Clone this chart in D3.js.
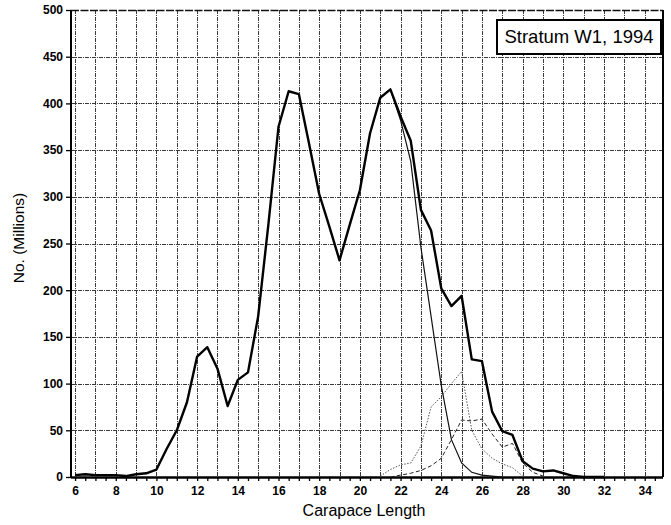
<!DOCTYPE html>
<html>
<head>
<meta charset="utf-8">
<script src="https://cdn.jsdelivr.net/npm/d3@7"></script>
<style>
  html, body { margin: 0; padding: 0; background: #fff; }
  svg { display: block; }
  text { font-family: "Liberation Sans", Arial, Helvetica, sans-serif; fill: #000; }
</style>
</head>
<body>
<svg id="chart" width="671" height="525"></svg>
<script>
// ---- Data ----
const totalX = [6,6.5,7,7.5,8,8.5,9,9.5,10,10.5,11,11.5,12,12.5,13,13.5,14,14.5,15,15.5,16,16.5,17,17.5,18,18.5,19,19.5,20,20.5,21,21.5,22,22.5,23,23.5,24,24.5,25,25.5,26,26.5,27,27.5,28,28.5,29,29.5,30,30.5,31,31.5,32];
const totalY = [2,3,2,2,2,1,3,4,8,30,50,80,129,139,116,76,104,112,172,270,375,413,410,357,303,268,232,270,307,368,406,415,386,360,286,264,202,183,194,126,124,70,49,45,17,9,6,7,4,1,0,0,0];

const comp1X = [21,21.5,22,22.5,23,23.5,24,24.5,25,25.5,26,26.5,27];
const comp1Y = [406,415,382,338,246,172,98,40,15,5,2,1,0];

const comp2X = [21.5,22,22.5,23,23.5,24,24.5,25,25.5,26,26.5,27,27.5,28,28.5,29];
const comp2Y = [0,2,4,7,12,20,40,61,60,62,46,32,36,15,5,1];

const comp3X = [21,21.5,22,22.5,23,23.5,24,24.5,25,25.5,26,26.5,27,27.5,28];
const comp3Y = [1,8,13,15,33,75,86,100,113,50,30,20,14,10,1];

const xTickValues = [6,6.5,7,7.5,8,8.5,9,9.5,10,10.5,11,11.5,12,12.5,13,13.5,14,14.5,15,15.5,16,16.5,17,17.5,18,18.5,19,19.5,20,20.5,21,21.5,22,22.5,23,23.5,24,24.5,25,25.5,26,26.5,27,27.5,28,28.5,29,29.5,30,30.5,31,31.5,32,32.5,33,33.5,34,34.5];
const xLabels = [6,8,10,12,14,16,18,20,22,24,26,28,30,32,34];
const xGrid = [6,7,8,9,10,11,12,13,14,15,16,17,18,19,20,21,22,23,24,25,26,27,28,29,30,31,32,33,34];
const yTicks = [0,50,100,150,200,250,300,350,400,450,500];

const title = "Stratum W1, 1994";
const xTitle = "Carapace Length";
const yTitle = "No. (Millions)";

// ---- Layout ----
const svg = d3.select("#chart");
const L = 71, R = 663, T = 10, B = 477;
const x = d3.scaleLinear().domain([5.8, 34.9]).range([L, R]);
const y = d3.scaleLinear().domain([0, 500]).range([B, T]);

// grid
const grid = svg.append("g").attr("stroke", "#3a3a3a").attr("stroke-width", 1)
  .attr("stroke-dasharray", "4,1,1,1");
grid.selectAll("line.v").data(xGrid).join("line").attr("class","v")
  .attr("x1", d => Math.round(x(d)) + 0.5).attr("x2", d => Math.round(x(d)) + 0.5)
  .attr("y1", T).attr("y2", B);
grid.selectAll("line.h").data(yTicks.filter(d => d > 0 && d < 500)).join("line").attr("class","h")
  .attr("y1", d => Math.round(y(d)) + 0.5).attr("y2", d => Math.round(y(d)) + 0.5)
  .attr("x1", L).attr("x2", R);

// frame
svg.append("line").attr("x1", L).attr("x2", R).attr("y1", T + 0.5).attr("y2", T + 0.5)
  .attr("stroke", "#111").attr("stroke-width", 1.6).attr("stroke-dasharray", "8,1.5");
svg.append("line").attr("x1", L).attr("x2", L).attr("y1", T).attr("y2", B)
  .attr("stroke", "#000").attr("stroke-width", 2);
svg.append("line").attr("x1", R).attr("x2", R).attr("y1", T).attr("y2", B)
  .attr("stroke", "#000").attr("stroke-width", 2);

// axes
const xAxis = d3.axisBottom(x).tickValues(xTickValues).tickSize(4).tickSizeOuter(0)
  .tickFormat(d => xLabels.includes(d) ? d : "");
const gx = svg.append("g").attr("transform", `translate(0,${B})`).call(xAxis);
gx.select(".domain").attr("stroke", "#000").attr("stroke-width", 2.5)
  .attr("d", `M${L},0.5H${R}`);
gx.selectAll(".tick line").attr("stroke", "#000").attr("stroke-width", 1.3);
gx.selectAll(".tick text").attr("font-size", 12).attr("font-weight", "bold").attr("dy", "0.95em")
  .style("font-family", "'Liberation Sans', Arial, sans-serif");

const yAxis = d3.axisLeft(y).tickValues(yTicks).tickSize(5).tickSizeOuter(0).tickPadding(3);
const gy = svg.append("g").attr("transform", `translate(${L},0)`).call(yAxis);
gy.select(".domain").remove();
gy.selectAll(".tick line").attr("stroke", "#000").attr("stroke-width", 1.3);
gy.selectAll(".tick text").attr("font-size", 12).attr("font-weight", "bold")
  .style("font-family", "'Liberation Sans', Arial, sans-serif");

// lines
const line = d3.line().x(d => x(d[0])).y(d => y(d[1]));
const zip = (a, b) => a.map((v, i) => [v, b[i]]);

svg.append("path").datum(zip(comp3X, comp3Y)).attr("d", line)
  .attr("fill", "none").attr("stroke", "#555").attr("stroke-width", 1)
  .attr("stroke-dasharray", "1.5,1.5");
svg.append("path").datum(zip(comp2X, comp2Y)).attr("d", line)
  .attr("fill", "none").attr("stroke", "#222").attr("stroke-width", 1)
  .attr("stroke-dasharray", "4,2.5");
svg.append("path").datum(zip(comp1X, comp1Y)).attr("d", line)
  .attr("fill", "none").attr("stroke", "#111").attr("stroke-width", 1.2);
svg.append("path").datum(zip(totalX, totalY)).attr("d", line)
  .attr("fill", "none").attr("stroke", "#000").attr("stroke-width", 2.4)
  .attr("stroke-linejoin", "round");

// legend box
svg.append("rect").attr("x", 497).attr("y", 20).attr("width", 164).attr("height", 34)
  .attr("fill", "#fff").attr("stroke", "#000").attr("stroke-width", 2);
svg.append("text").attr("x", 579).attr("y", 43).attr("text-anchor", "middle")
  .attr("font-size", 18.5).text(title);

// axis titles
svg.append("text").attr("x", 364).attr("y", 516).attr("text-anchor", "middle")
  .attr("font-size", 16).text(xTitle);
svg.append("text").attr("transform", "translate(24,238) rotate(-90)").attr("text-anchor", "middle")
  .attr("font-size", 15.5).text(yTitle);
</script>
</body>
</html>
